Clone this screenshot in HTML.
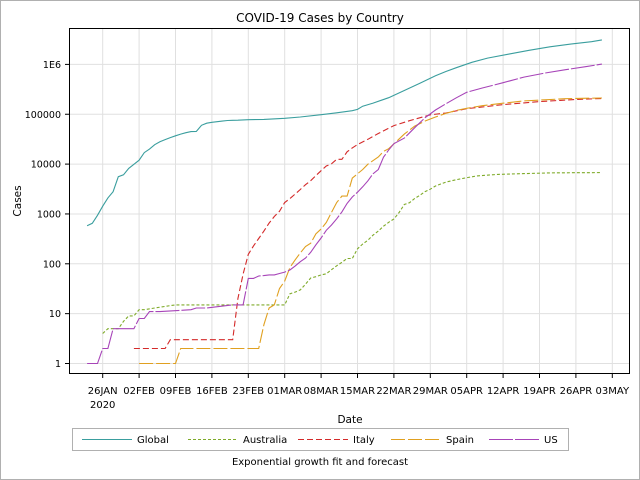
<!DOCTYPE html>
<html><head><meta charset="utf-8"><style>
body{margin:0;background:#fff}
svg{display:block;font-family:"DejaVu Sans","Liberation Sans",sans-serif}
</style></head><body>
<svg id="chart" width="640" height="480" viewBox="0 0 640 480">
<rect x="0.5" y="0.5" width="639" height="479" fill="#fff" stroke="#b0b0b0"/>
<text x="320" y="22" text-anchor="middle" font-size="12" fill="#000">COVID-19 Cases by Country</text>
<g id="grid"></g>
<g id="series"></g>
<rect x="69.5" y="28.5" width="560" height="345" fill="none" stroke="#000"/>
<g id="axes"></g>
<text x="350" y="423" text-anchor="middle" font-size="10.5">Date</text>
<text transform="translate(21,201) rotate(-90)" text-anchor="middle" font-size="10.5">Cases</text>
<rect x="72.5" y="428.5" width="496" height="22" fill="#fff" stroke="#b0b0b0"/>
<g id="legend"></g>
<text x="320" y="465" text-anchor="middle" font-size="10">Exponential growth fit and forecast</text>
</svg>
<script>
// day index: 0 = 22 Jan 2020
const xTickDays = [4,11,18,25,32,39,46,53,60,67,74,81,88,95,102];
const xTickLabels = ["26JAN","02FEB","09FEB","16FEB","23FEB","01MAR","08MAR","15MAR","22MAR","29MAR","05APR","12APR","19APR","26APR","03MAY"];
const yTickValues = [1,10,100,1000,10000,100000,1000000];
const yTickLabels = ["1","10","100","1000","10000","100000","1E6"];
const seriesNames = ["Global","Australia","Italy","Spain","US"];

const globalDays = [1,2,3,4,5,6,7,8,9,10,11,12,13,14,15,16,17,18,19,20,21,22,23,24,25,26,27,28,29,30,32,35,39,42,46,49,52,53,54,56,59,62,65,68,70,72,75,78,82,86,90,94,98,100];
const globalVals = [580,650,940,1430,2100,2800,5600,6100,8200,9900,12000,17000,20000,24500,28000,31000,34000,37000,40000,42700,44800,45000,60000,66000,69000,71000,73000,75000,75600,76000,77600,79000,83000,88000,98000,107000,118000,125000,145000,167000,215000,300000,420000,590000,720000,860000,1100000,1340000,1600000,1920000,2250000,2550000,2860000,3100000];

const ausDays = [4,5,7,8,9,10,11,12,14,16,18,38,39,40,41,42,43,44,45,46,47,48,49,50,51,52,53,54,55,56,57,58,59,60,61,62,63,64,65,66,67,68,69,70,72,74,76,80,85,90,95,100];
const ausVals = [4,5,5,7,9,9,12,12,13,14,15,15,15,25,27,30,39,52,55,60,63,76,91,107,128,128,200,250,297,377,452,568,681,791,1071,1549,1682,2044,2364,2810,3143,3640,3984,4361,4862,5330,5800,6200,6450,6650,6730,6760];

const italyDays = [10,16,17,29,30,31,32,33,34,35,36,37,38,39,40,41,42,43,44,45,46,47,48,49,50,51,52,53,55,57,60,63,67,70,74,78,81,85,88,92,95,100];
const italyVals = [2,2,3,3,20,62,155,229,322,453,655,888,1128,1694,2036,2502,3089,3858,4636,5883,7375,9172,10149,12462,12462,17660,21157,24747,31506,41035,59138,74386,97689,105792,128948,143626,156363,168941,178972,189973,197675,207428];

const spainDays = [11,18,19,34,35,36,37,38,39,40,41,42,43,44,45,46,47,48,49,50,51,52,53,54,55,56,57,58,59,60,62,64,66,68,70,72,74,77,81,85,89,93,95,100];
const spainVals = [1,1,2,2,6,13,15,32,45,84,120,165,222,259,400,500,673,1073,1695,2277,2277,5232,6391,7798,9942,11748,13910,17963,20410,25374,39885,57786,73235,87956,104118,119199,131646,148220,166831,184948,195000,205000,208000,212000];

const usDays = [1,3,4,5,6,9,10,11,12,13,14,15,21,22,24,29,30,31,32,33,34,35,36,37,38,39,40,41,42,43,44,45,46,47,48,49,50,51,52,53,54,55,56,57,58,59,60,62,64,66,68,70,72,74,77,81,85,89,93,97,100];
const usVals = [1,1,2,2,5,5,5,8,8,11,11,11,12,13,13,15,15,15,51,51,57,58,60,60,64,68,75,90,110,130,170,240,330,470,600,800,1100,1630,2183,2727,3499,4632,6421,7783,13747,19273,25600,33276,53740,85356,121478,161807,213372,275586,336802,429052,555313,667801,784326,905358,1012582,1103461];

const NS = "http://www.w3.org/2000/svg";
const X0 = 81.9, DX = 5.2, Y1 = 363.5, DEC = 49.85;
function xScale(d){ return X0 + d*DX; }
function yScale(v){ return Y1 - Math.log10(v)*DEC; }
function mk(tag, attrs, parent){ const e=document.createElementNS(NS,tag); for(const k in attrs) e.setAttribute(k,attrs[k]); parent.appendChild(e); return e; }

const grid = document.getElementById('grid');
const axes = document.getElementById('axes');
xTickDays.forEach((d,i)=>{
  const x = xScale(d);
  const g = mk('line',{x1:x,x2:x,y1:29,y2:373,stroke:'#e0e0e0'},grid);
  
  
  const t = mk('line',{x1:x,x2:x,y1:373.5,y2:378,stroke:'#000'},axes);
  
  
  const l = mk('text',{x:x,y:394,'text-anchor':'middle','font-size':'10'},axes);
  l.textContent = xTickLabels[i];
  
  
});
const yr = mk('text',{x:xScale(xTickDays[0]),y:408,'text-anchor':'middle','font-size':'10'},axes);
yr.textContent = '2020';


yTickValues.forEach((v,i)=>{
  const y = yScale(v);
  const g = mk('line',{x1:70,x2:629,y1:y,y2:y,stroke:'#e0e0e0'},grid);
  
  
  const t = mk('line',{x1:65,x2:69.5,y1:y,y2:y,stroke:'#000'},axes);
  
  
  const l = mk('text',{x:61,y:y+3.5,'text-anchor':'end','font-size':'9.5'},axes);
  l.textContent = yTickLabels[i];
  
  
});

const styles = [
  {c:'#3a9e9e',d:''},
  {c:'#7fab2a',d:'3,2'},
  {c:'#d42a2a',d:'6,3'},
  {c:'#e0a020',d:'14,3'},
  {c:'#a744b8',d:'24,2'}
];
const dataDays = [globalDays,ausDays,italyDays,spainDays,usDays];
const dataVals = [globalVals,ausVals,italyVals,spainVals,usVals];
const sg = document.getElementById('series');
dataDays.forEach((days,s)=>{
  const pts = days.map((d,i)=>xScale(d).toFixed(1)+','+yScale(dataVals[s][i]).toFixed(1)).join(' ');
  const p = mk('polyline',{points:pts,fill:'none',stroke:styles[s].c,'stroke-width':'1.1'},sg);
  if(styles[s].d) p.setAttribute('stroke-dasharray',styles[s].d);
  
  
});

const leg = document.getElementById('legend');
const legLineX = [82,188,298,391,489];
seriesNames.forEach((n,s)=>{
  const x = legLineX[s];
  const ln = mk('line',{x1:x,x2:x+50,y1:439.5,y2:439.5,stroke:styles[s].c,'stroke-width':'1.1'},leg);
  if(styles[s].d) ln.setAttribute('stroke-dasharray',styles[s].d);
  
  
  const t = mk('text',{x:x+55,y:443,'font-size':'10'},leg);
  t.textContent = n;
  
  
});
</script>
</body></html>
